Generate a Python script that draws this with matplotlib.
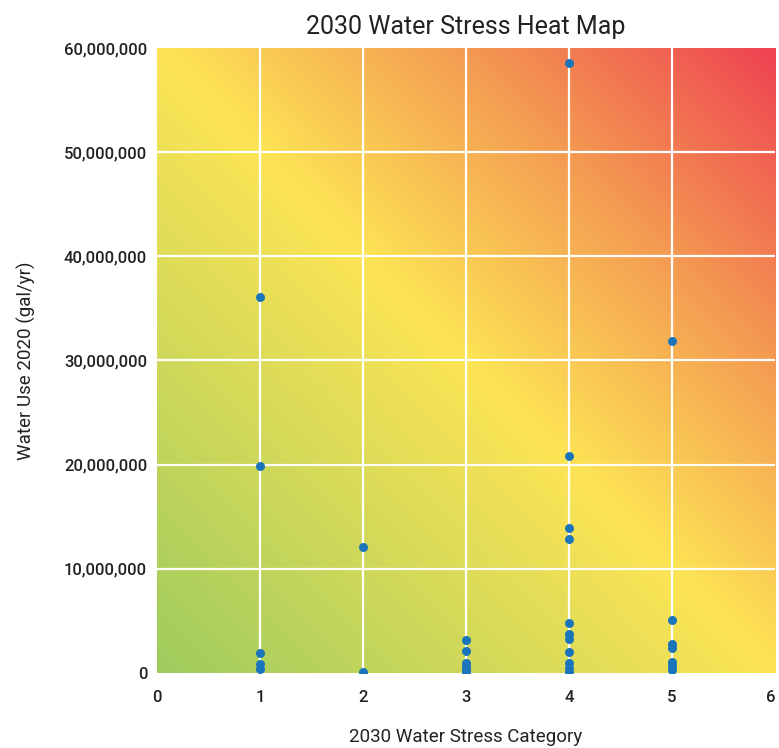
import numpy as np
import matplotlib.pyplot as plt
from matplotlib.colors import LinearSegmentedColormap
from matplotlib.ticker import FuncFormatter

plt.rcParams['font.family'] = ['Roboto', 'DejaVu Sans']
plt.rcParams['font.weight'] = 'medium'

# 2030 water stress category and 2020 water use (gal/yr)
cat1 = [36.1e6, 19.9e6, 1.9e6, 0.85e6, 0.35e6]
cat2 = [12.1e6, 0.12e6]
cat3 = [3.2e6, 2.1e6, 1.0e6, 0.6e6, 0.3e6, 0.1e6]
cat4 = [58.6e6, 20.8e6, 13.9e6, 12.9e6, 4.8e6, 3.7e6, 3.3e6, 2.0e6, 0.93e6, 0.45e6, 0.07e6]
cat5 = [31.9e6, 5.1e6, 2.8e6, 2.4e6, 1.1e6, 0.67e6, 0.29e6]

x_ticks = [0, 1, 2, 3, 4, 5, 6]
y_ticks = [0, 10e6, 20e6, 30e6, 40e6, 50e6, 60e6]

fig = plt.figure(figsize=(7.79, 7.48), dpi=100)
ax = fig.add_axes([0.2015, 0.1003, 0.7935, 0.8355])

# diagonal heat background: green -> yellow -> orange -> red
cmap = LinearSegmentedColormap.from_list(
    "stress", [(0.0, "#9fcc5e"), (0.5, "#fde455"), (0.75, "#f49a52"), (1.0, "#ef4351")])
gx, gy = np.meshgrid(np.linspace(0, 1, 300), np.linspace(0, 1, 300))
ax.imshow((gx + gy) / 2, cmap=cmap, origin="lower", extent=[0, 6, 0, 60e6],
          aspect="auto", zorder=0, vmin=0, vmax=1, interpolation="bilinear")

for v in x_ticks[1:-1]:
    ax.axvline(v, color="white", lw=1.6, zorder=1)
for v in y_ticks[1:-1]:
    ax.axhline(v, color="white", lw=1.6, zorder=1)

for c, vals in zip([1, 2, 3, 4, 5], [cat1, cat2, cat3, cat4, cat5]):
    ax.scatter([c] * len(vals), vals, s=42, color="#1b75bb", zorder=3, linewidths=0)

ax.set_xlim(0, 6)
ax.set_ylim(0, 60e6)
ax.set_xticks(x_ticks)
ax.set_yticks(y_ticks)
ax.yaxis.set_major_formatter(FuncFormatter(lambda v, p: f"{int(v):,}"))
ax.tick_params(length=0, labelsize=12, colors="#222222")
ax.tick_params(axis="x", pad=12)
ax.tick_params(axis="y", pad=7)
ax.get_xticklabels()[-1].set_horizontalalignment("right")
for s in ax.spines.values():
    s.set_visible(False)

ax.set_title("2030 Water Stress Heat Map", fontsize=18, color="#222222", pad=10)
ax.set_xlabel("2030 Water Stress Category", fontsize=13.5, color="#222222", labelpad=17)
ax.set_ylabel("Water Use 2020 (gal/yr)", fontsize=13.5, color="#222222", labelpad=20)

fig.savefig("out.png", dpi=100)
